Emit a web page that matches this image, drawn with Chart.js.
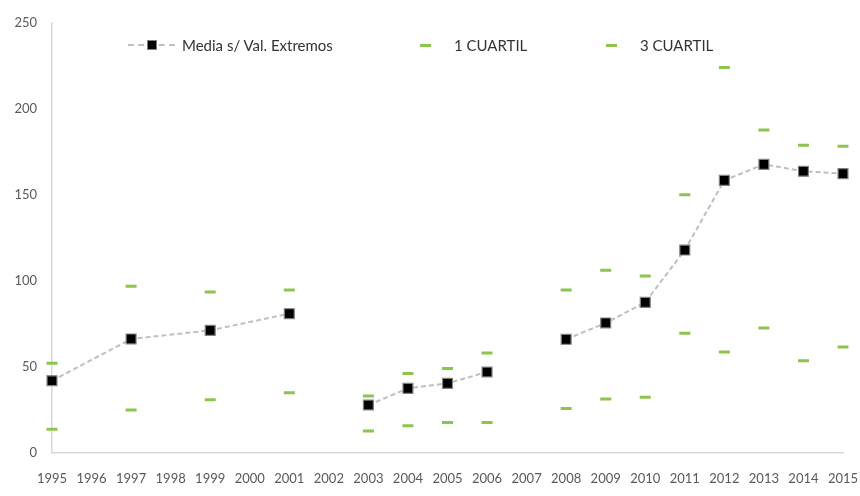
<!DOCTYPE html>
<html>
<head>
<meta charset="utf-8">
<script src="https://cdn.jsdelivr.net/npm/chart.js@4.4.0/dist/chart.umd.min.js"></script>
<style>
    html, body { margin: 0; padding: 0; background: #fff; }
    #wrap { position: relative; width: 860px; height: 496px; }
    #legend { position: absolute; left: 0; top: 0; font-family: Lato, sans-serif; font-size: 15px; color: #333; }
    .item { position: absolute; top: 36px; height: 18px; line-height: 18px; white-space: nowrap; }
    .dashline { position: absolute; top: 8px; border-top: 2px dashed #bfbfbf; }
    .sq { position: absolute; width: 8px; height: 8px; background: #000; border: 1px solid #7f7f7f; }
    .green { position: absolute; top: 8px; height: 3px; background: #8dc34f; }
</style>
</head>
<body>
<div id="wrap">
    <canvas id="myChart" width="860" height="496"></canvas>
    <div id="legend"></div>
</div>
<script>

// DATA PARTS

var years = ['1995', '1996', '1997', '1998', '1999', '2000', '2001', '2002', '2003', '2004',
             '2005', '2006', '2007', '2008', '2009', '2010', '2011', '2012', '2013', '2014', '2015'];

var media = [42, null, 66.3, null, 71.3, null, 81, null, 27.9, 37.6,
             40.5, 47.1, null, 66.1, 75.6, 87.6, 118, 158.5, 167.8, 163.8, 162.4];

var cuartil1 = [13.8, null, 25, null, 31, null, 35.1, null, 12.8, 15.9,
                17.8, 17.8, null, 25.8, 31.4, 32.4, 69.6, 58.7, 72.7, 53.7, 61.6];

var cuartil3 = [52.2, null, 96.9, null, 93.6, null, 94.8, null, 33.1, 46.2,
                49.1, 58.1, null, 94.8, 106.2, 102.9, 150.2, 224.1, 187.8, 178.9, 178.3];

var breakYears = ['2002', '2007'];
var yTicks = [0, 50, 100, 150, 200, 250];

var labelMedia = 'Media s/ Val. Extremos';
var labelQ1 = '1 CUARTIL';
var labelQ3 = '3 CUARTIL';

// FUNCTION PARTS

// the line jumps over the missing odd years but stops at 2002 and 2007
function segColor(ctx){
    for (var i = ctx.p0DataIndex; i < ctx.p1DataIndex; i++) {
        if (breakYears.indexOf(years[i]) !== -1) {
            return 'rgba(0,0,0,0)';
        }
    }
    return undefined;
}

function buildLegend(){
    var legend = document.getElementById('legend');
    legend.innerHTML =
        '<div class="item" style="left:128px">' +
            '<div class="dashline" style="left:0;width:47px"></div>' +
            '<div class="sq" style="left:19px;top:4px"></div>' +
            '<span style="position:absolute;left:54px">' + labelMedia + '</span>' +
        '</div>' +
        '<div class="item" style="left:420px">' +
            '<div class="green" style="left:0;width:11px"></div>' +
            '<span style="position:absolute;left:34px">' + labelQ1 + '</span>' +
        '</div>' +
        '<div class="item" style="left:606px">' +
            '<div class="green" style="left:0;width:11px"></div>' +
            '<span style="position:absolute;left:34px">' + labelQ3 + '</span>' +
        '</div>';
}

var ctx = document.getElementById('myChart').getContext('2d');
var myChart = new Chart(ctx, {
    type: 'line',
    data: {
        labels: years,
        datasets: [{
            label: labelMedia,
            data: media,
            borderColor: '#bfbfbf',
            borderWidth: 2,
            borderDash: [5, 3],
            spanGaps: true,
            segment: { borderColor: segColor },
            pointStyle: 'rect',
            pointRadius: 7,
            pointBackgroundColor: '#000',
            pointBorderColor: '#808080',
            pointBorderWidth: 1.2,
            order: 0
        }, {
            label: labelQ1,
            data: cuartil1,
            showLine: false,
            pointStyle: 'line',
            pointRadius: 5.5,
            pointBorderColor: '#8dc34f',
            pointBorderWidth: 3,
            order: 1
        }, {
            label: labelQ3,
            data: cuartil3,
            showLine: false,
            pointStyle: 'line',
            pointRadius: 5.5,
            pointBorderColor: '#8dc34f',
            pointBorderWidth: 3,
            order: 2
        }]
    },
    options: {
        responsive: false,
        animation: false,
        layout: { padding: { top: 23, right: 17, left: 0, bottom: 0 } },
        plugins: {
            legend: { display: false },
            tooltip: { enabled: false }
        },
        scales: {
            x: {
                offset: false,
                grid: { display: false },
                border: { display: true, color: '#d9d9d9', width: 1.5 },
                ticks: {
                    color: '#595959',
                    font: { family: 'Lato', size: 13 },
                    padding: 10,
                    maxRotation: 0,
                    autoSkip: false
                },
                afterFit: function(scale){
                    scale.height = 43;
                    scale.paddingRight = 0;
                }
            },
            y: {
                min: 0,
                max: 250,
                grid: { display: false },
                border: { display: true, color: '#d9d9d9', width: 1.5 },
                ticks: {
                    color: '#595959',
                    font: { family: 'Lato', size: 13 },
                    padding: 7,
                    stepSize: 50
                },
                afterBuildTicks: function(scale){
                    scale.ticks = yTicks.map(function(v){ return { value: v }; });
                },
                afterFit: function(scale){ scale.width = 52; }
            }
        }
    }
});

buildLegend();

</script>
</body>
</html>
